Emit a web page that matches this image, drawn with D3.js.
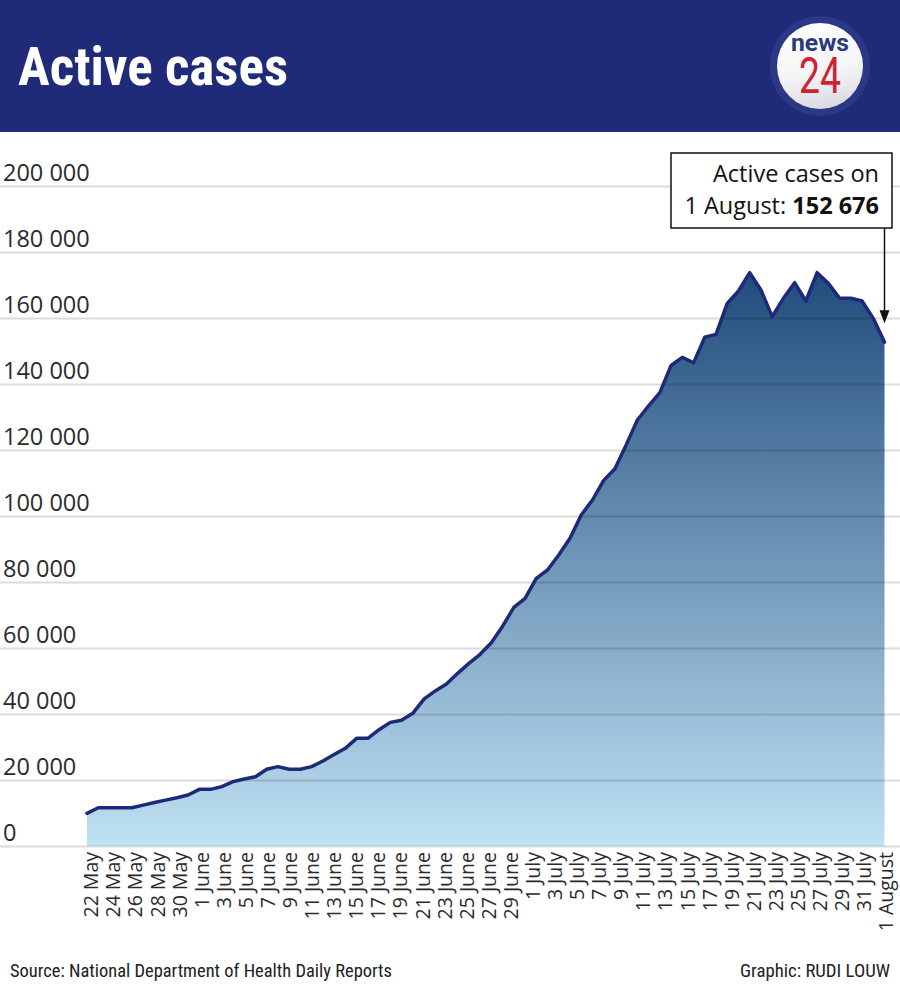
<!DOCTYPE html>
<html>
<head>
<meta charset="utf-8">
<script src="https://cdn.jsdelivr.net/npm/d3@7"></script>
<style>
  html, body { margin: 0; padding: 0; background: #fff; }
  svg { display: block; }
</style>
</head>
<body>
<svg id="chart" width="900" height="986"></svg>
<script>
// ---------- DATA ----------
const dates = [
  "22 May","23 May","24 May","25 May","26 May","27 May","28 May","29 May","30 May","31 May",
  "1 June","2 June","3 June","4 June","5 June","6 June","7 June","8 June","9 June","10 June",
  "11 June","12 June","13 June","14 June","15 June","16 June","17 June","18 June","19 June","20 June",
  "21 June","22 June","23 June","24 June","25 June","26 June","27 June","28 June","29 June","30 June",
  "1 July","2 July","3 July","4 July","5 July","6 July","7 July","8 July","9 July","10 July",
  "11 July","12 July","13 July","14 July","15 July","16 July","17 July","18 July","19 July","20 July",
  "21 July","22 July","23 July","24 July","25 July","26 July","27 July","28 July","29 July","30 July",
  "31 July","1 August"
];
const activeCases = [
  9900, 11600, 11600, 11600, 11600, 12400, 13200, 13900, 14600, 15450,
  17170, 17170, 17980, 19500, 20300, 21000, 23240, 24040, 23240, 23240,
  24040, 25760, 27700, 29600, 32630, 32630, 35250, 37470, 38100, 40200,
  44500, 47000, 49090, 52320, 55350, 58100, 61600, 66600, 72300, 75060,
  81100, 83640, 88180, 93240, 100300, 104850, 110800, 114300, 121500, 129100,
  133400, 137400, 145600, 148080, 146400, 154150, 155050, 164450, 168180, 173740,
  168480, 160400, 165970, 170700, 165150, 173740, 170500, 165970, 165970, 165150,
  159900, 152676
];
const xTickLabels = [
  "22 May","24 May","26 May","28 May","30 May","1 June","3 June","5 June","7 June","9 June",
  "11 June","13 June","15 June","17 June","19 June","21 June","23 June","25 June","27 June","29 June",
  "1 July","3 July","5 July","7 July","9 July","11 July","13 July","15 July","17 July","19 July",
  "21 July","23 July","25 July","27 July","29 July","31 July","1 August"
];
const yTicks = [0, 20000, 40000, 60000, 80000, 100000, 120000, 140000, 160000, 180000, 200000];
const yTickLabels = ["0","20 000","40 000","60 000","80 000","100 000","120 000","140 000","160 000","180 000","200 000"];
const titleText = "Active cases";
const annotationLine1 = "Active cases on";
const annotationDate = "1 August: ";
const annotationValue = "152 676";
const sourceText = "Source: National Department of Health Daily Reports";
const creditText = "Graphic: RUDI LOUW";

// ---------- SETUP ----------
const svg = d3.select("#chart");
const W = 900;
const navy = "#1f2b78";

const x = d3.scalePoint().domain(dates).range([87, 884.5]);
// tick labels are laid out evenly along the axis (as in the reference)
const xLabel = d3.scalePoint().domain(xTickLabels).range([88, 883]);
const y = d3.scaleLinear().domain([0, 200000]).range([846, 186]);

// Header
svg.append("rect").attr("x", 0).attr("y", 0).attr("width", W).attr("height", 132).attr("fill", navy);
svg.append("text")
  .attr("x", 18).attr("y", 85)
  .attr("fill", "#fff")
  .attr("font-family", "'Liberation Sans Narrow', 'Roboto Condensed', Roboto, sans-serif")
  .attr("font-weight", "bold")
  .attr("font-size", 54)
  .attr("textLength", 270).attr("lengthAdjust", "spacingAndGlyphs")
  .text(titleText);

// Logo
const defs = svg.append("defs");
const lg = defs.append("linearGradient").attr("id", "logoGrad")
  .attr("x1", "0.3").attr("y1", "0").attr("x2", "0.5").attr("y2", "1");
lg.append("stop").attr("offset", "0").attr("stop-color", "#ffffff");
lg.append("stop").attr("offset", "0.6").attr("stop-color", "#f4f4f6");
lg.append("stop").attr("offset", "1").attr("stop-color", "#d9dae0");
const logo = svg.append("g").attr("transform", "translate(820,66)");
logo.append("circle").attr("r", 50).attr("fill", "#2b3886");
logo.append("circle").attr("r", 43).attr("fill", "url(#logoGrad)");
logo.append("text").attr("x", 0).attr("y", -15).attr("text-anchor", "middle")
  .attr("fill", "#2a3a7c").attr("font-family", "Roboto, 'Liberation Sans', sans-serif")
  .attr("font-weight", "bold").attr("font-size", 23)
  .attr("textLength", 58).attr("lengthAdjust", "spacingAndGlyphs")
  .text("news");
logo.append("text").attr("x", 0).attr("y", 27).attr("text-anchor", "middle")
  .attr("fill", "#cf2130").attr("font-family", "'Liberation Sans Narrow', Roboto, sans-serif")
  .attr("font-size", 46)
  .attr("transform", "translate(0,27) scale(1,1.1) translate(0,-27)")
  .attr("textLength", 42).attr("lengthAdjust", "spacingAndGlyphs")
  .text("24");

// Area gradient
const ag = defs.append("linearGradient").attr("id", "areaGrad")
  .attr("gradientUnits", "userSpaceOnUse")
  .attr("x1", 0).attr("y1", y(0)).attr("x2", 0).attr("y2", y(175000));
ag.append("stop").attr("offset", "0").attr("stop-color", "#bfe1f4");
ag.append("stop").attr("offset", "1").attr("stop-color", "#1f4a7b");

const series = dates.map((d, i) => ({ date: d, value: activeCases[i] }));

// Area
svg.append("path").datum(series)
  .attr("fill", "url(#areaGrad)")
  .attr("d", d3.area().x(d => x(d.date)).y0(y(0)).y1(d => y(d.value)));

// Gridlines + y labels (on top of area, translucent)
const yAxis = d3.axisRight(y)
  .tickValues(yTicks)
  .tickSize(W)
  .tickFormat((d, i) => yTickLabels[i]);
const gy = svg.append("g").call(yAxis);
gy.select(".domain").remove();
gy.selectAll(".tick line").attr("stroke", "rgba(0,0,0,0.14)").attr("stroke-width", 2);
gy.selectAll(".tick text")
  .attr("x", 3).attr("dy", -6)
  .attr("text-anchor", "start")
  .attr("fill", "#2b2b2b")
  .attr("font-family", "'Open Sans', sans-serif")
  .attr("font-size", 23.5);

// Line
svg.append("path").datum(series)
  .attr("fill", "none")
  .attr("stroke", "#1e2a78")
  .attr("stroke-width", 3.5)
  .attr("stroke-linejoin", "round")
  .attr("stroke-linecap", "round")
  .attr("d", d3.line().x(d => x(d.date)).y(d => y(d.value)));

// X axis labels
const xAxis = d3.axisBottom(xLabel).tickSize(0).tickPadding(0);
const gx = svg.append("g").attr("transform", `translate(0,${y(0)})`).call(xAxis);
gx.select(".domain").remove();
gx.selectAll(".tick text")
  .attr("transform", "translate(3,6) rotate(-90)")
  .attr("x", 0).attr("y", 0).attr("dy", "0.35em")
  .attr("text-anchor", "end")
  .attr("fill", "#2b2b2b")
  .attr("font-family", "'Open Sans', sans-serif")
  .attr("font-size", 19.5);

// Annotation box
svg.append("rect")
  .attr("x", 671).attr("y", 153).attr("width", 221).attr("height", 75)
  .attr("fill", "#fff").attr("stroke", "#111").attr("stroke-width", 1.5);
svg.append("text").attr("x", 879).attr("y", 182).attr("text-anchor", "end")
  .attr("font-family", "'Open Sans', sans-serif").attr("font-size", 23.5).attr("fill", "#111")
  .text(annotationLine1);
const t2 = svg.append("text").attr("x", 879).attr("y", 214).attr("text-anchor", "end")
  .attr("font-family", "'Open Sans', sans-serif").attr("font-size", 23.5).attr("fill", "#111");
t2.append("tspan").text(annotationDate);
t2.append("tspan").attr("font-weight", "bold").text(annotationValue);

// Arrow
const lastX = x(dates[dates.length - 1]);
const lastY = y(activeCases[activeCases.length - 1]);
svg.append("line")
  .attr("x1", lastX).attr("y1", 228).attr("x2", lastX).attr("y2", lastY - 26)
  .attr("stroke", "#111").attr("stroke-width", 1.5);
svg.append("path")
  .attr("d", `M${lastX - 5},${lastY - 32} L${lastX + 5},${lastY - 32} L${lastX},${lastY - 19} Z`)
  .attr("fill", "#111");

// Footer
svg.append("text").attr("x", 10).attr("y", 977)
  .attr("font-family", "'Liberation Sans Narrow', 'Roboto Condensed', Roboto, sans-serif")
  .attr("font-size", 18).attr("fill", "#222")
  .attr("textLength", 382).attr("lengthAdjust", "spacingAndGlyphs")
  .text(sourceText);
svg.append("text").attr("x", 890).attr("y", 977).attr("text-anchor", "end")
  .attr("font-family", "'Liberation Sans Narrow', 'Roboto Condensed', Roboto, sans-serif")
  .attr("font-size", 18).attr("fill", "#222")
  .attr("textLength", 150).attr("lengthAdjust", "spacingAndGlyphs")
  .text(creditText);
</script>
</body>
</html>
